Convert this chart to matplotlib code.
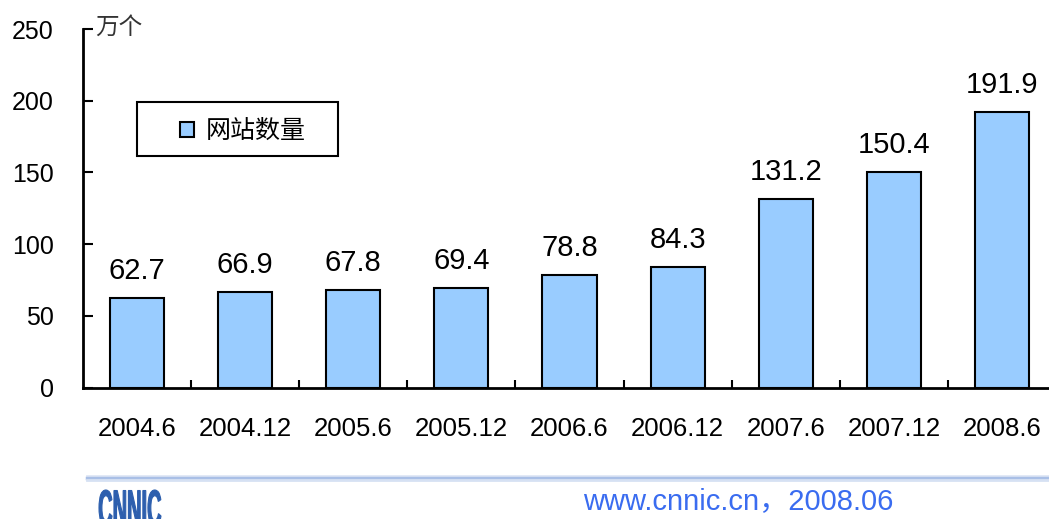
import matplotlib.pyplot as plt
import numpy as np
from matplotlib.lines import Line2D
from matplotlib.patches import Rectangle, PathPatch
from matplotlib.textpath import TextPath
from matplotlib.font_manager import FontProperties
from matplotlib.transforms import Affine2D, IdentityTransform

plt.rcParams['font.family'] = ['Liberation Sans', 'Noto Sans CJK SC', 'DejaVu Sans']

# data
periods = ['2004.6', '2004.12', '2005.6', '2005.12', '2006.6',
           '2006.12', '2007.6', '2007.12', '2008.6']
sites = [62.7, 66.9, 67.8, 69.4, 78.8, 84.3, 131.2, 150.4, 191.9]
yticks = [0, 50, 100, 150, 200, 250]

W, H = 1049, 519
fig = plt.figure(figsize=(W / 100, H / 100), dpi=100)

# axes runs a bit past the right edge, as in the original slide
left, right = 83, 1056
bottom, top = 387.5, 29
ax = fig.add_axes([left / W, (H - bottom) / H, (right - left) / W, (bottom - top) / H])

x = np.arange(len(periods))
ax.bar(x, sites, width=0.5, color='#99ccff', edgecolor='black',
       linewidth=1.5, label='网站数量', zorder=2)

for xi, v in zip(x, sites):
    ax.text(xi, v + 9, f'{v}', ha='center', va='bottom', fontsize=21,
            color='black')

ax.set_xlim(-0.5, 8.5)
ax.set_ylim(0, 250)
ax.set_yticks(yticks)
ax.set_yticklabels([str(t) for t in yticks], fontsize=18)
ax.set_xticks(x)
ax.set_xticklabels(periods, fontsize=18.5)
ax.set_xticks(np.arange(len(periods) - 1) + 0.5, minor=True)

ax.tick_params(axis='y', direction='in', length=7, width=1.5, pad=21)
ax.tick_params(axis='x', which='major', length=0, pad=21)
ax.tick_params(axis='x', which='minor', direction='in', length=6, width=1.5)

for s in ['top', 'right']:
    ax.spines[s].set_visible(False)
for s in ['left', 'bottom']:
    ax.spines[s].set_linewidth(2)

ax.text(0.012, 1.005, '万个', transform=ax.transAxes, fontsize=17,
        color='#333333', ha='left', va='center',
        family=['Noto Sans CJK SC', 'DejaVu Sans'])

# legend box drawn by hand (original box is wider than the entry)
fig.add_artist(Rectangle((137 / W, (H - 156) / H), 201 / W, 54 / H,
                         transform=fig.transFigure, fill=False,
                         edgecolor='black', lw=1.5))
leg = ax.legend(loc='center left',
                bbox_to_anchor=((180 - left) / (right - left), (bottom - 131) / (bottom - top)),
                prop={'family': ['Noto Sans CJK SC'], 'size': 18},
                frameon=False, borderpad=0, handlelength=0.55, handleheight=0.55,
                handletextpad=0.5, borderaxespad=0)

# footer separator line (soft blue band)
for dy, c, lw in [(-2, '#dfe7f5', 2), (0, '#a9bfe6', 2.5), (2, '#d6e1f3', 2)]:
    yy = (H - 478 - dy) / H
    fig.add_artist(Line2D([87 / W, 1.0], [yy, yy], color=c, lw=lw,
                          transform=fig.transFigure))

# CNNIC logo as condensed bold text
tp = TextPath((0, 0), 'CNNIC', size=100,
              prop=FontProperties(family='Liberation Sans', weight='bold'))
ext = tp.get_extents()
sx = 62 / ext.width
sy = 36 / ext.height
tr = Affine2D().translate(-ext.x0, -ext.y0).scale(sx, sy).translate(99, H - 526)
fig.add_artist(PathPatch(tr.transform_path(tp), transform=IdentityTransform(),
                         facecolor='#2d5fae', edgecolor='#2d5fae', lw=0.8))

fig.text(583 / W, (H - 501) / H, 'www.cnnic.cn，2008.06', fontsize=21,
         color='#3a6cf0', ha='left', va='center',
         family=['Liberation Sans', 'Noto Sans CJK SC'])

fig.savefig('out.png', dpi=100)
